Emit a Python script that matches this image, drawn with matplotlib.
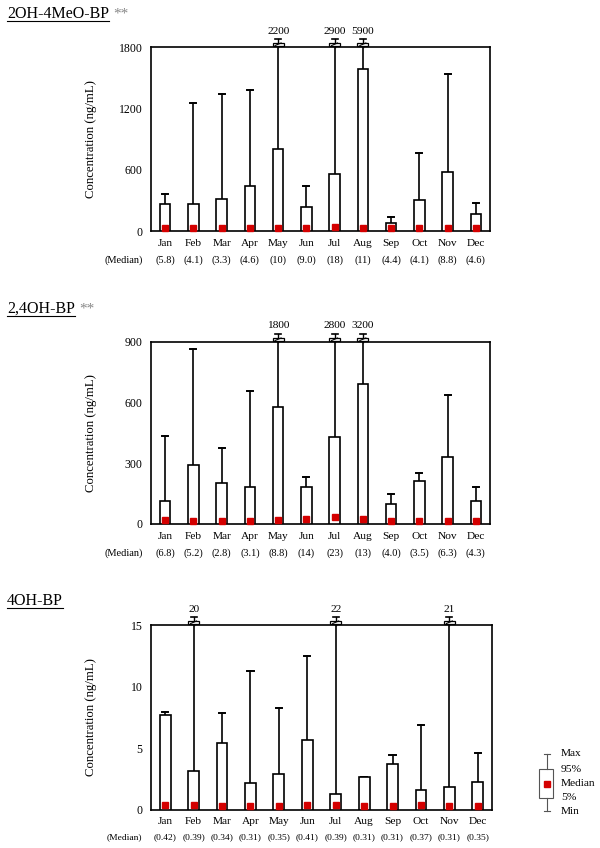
import matplotlib
matplotlib.use('Agg')
import matplotlib.pyplot as plt
from matplotlib.transforms import blended_transform_factory, offset_copy
from matplotlib.patches import Rectangle

plt.rcParams['font.family'] = ['Liberation Serif', 'DejaVu Serif']

months = ['Jan', 'Feb', 'Mar', 'Apr', 'May', 'Jun', 'Jul', 'Aug', 'Sep', 'Oct', 'Nov', 'Dec']

# 2OH-4MeO-BP
p95_a = [268, 268, 317, 438, 798, 239, 556, 1587, 75, 308, 576, 170]
max_a = [366, 1250, 1342, 1378, 2200, 438, 2900, 5900, 137, 759, 1538, 272]
med_a = [5.8, 4.1, 3.3, 4.6, 10, 9.0, 18, 11, 4.4, 4.1, 8.8, 4.6]
medlbl_a = ['5.8', '4.1', '3.3', '4.6', '10', '9.0', '18', '11', '4.4', '4.1', '8.8', '4.6']
yticks_a = [0, 600, 1200, 1800]

# 2,4OH-BP
p95_b = [115, 291, 204, 181, 578, 184, 431, 693, 97, 211, 329, 115]
max_b = [436, 864, 377, 658, 1800, 234, 2800, 3200, 150, 252, 637, 184]
med_b = [6.8, 5.2, 2.8, 3.1, 8.8, 14, 23, 13, 4.0, 3.5, 6.3, 4.3]
medlbl_b = ['6.8', '5.2', '2.8', '3.1', '8.8', '14', '23', '13', '4.0', '3.5', '6.3', '4.3']
yticks_b = [0, 300, 600, 900]

# 4OH-BP
p95_c = [7.7, 3.2, 5.45, 2.2, 2.95, 5.7, 1.3, 2.65, 3.75, 1.6, 1.9, 2.3]
max_c = [7.95, 20, 7.9, 11.3, 8.25, 12.5, 22, 2.7, 4.45, 6.9, 21, 4.65]
med_c = [0.42, 0.39, 0.34, 0.31, 0.35, 0.41, 0.39, 0.31, 0.31, 0.37, 0.31, 0.35]
medlbl_c = ['0.42', '0.39', '0.34', '0.31', '0.35', '0.41', '0.39', '0.31', '0.31', '0.37', '0.31', '0.35']
yticks_c = [0, 5, 10, 15]

RED = '#d40000'
W, H = 600, 848
fig = plt.figure(figsize=(6, 8.48), dpi=100)

overlay = fig.add_axes([0, 0, 1, 1], zorder=5)
overlay.set_xlim(0, W)
overlay.set_ylim(H, 0)
overlay.axis('off')
overlay.patch.set_alpha(0)


def panel(left, top, right, bottom, p95, vmax, med, medlbl, yticks,
          month_dy=12, med_dy=29, med_fs=7.5, marker_lift=2.2):
    ax = fig.add_axes([left / W, 1 - bottom / H, (right - left) / W, (bottom - top) / H])
    ymax = yticks[-1]
    x = list(range(1, 13))
    bw = 0.38
    mtr = offset_copy(ax.transData, fig=fig, y=marker_lift, units='dots')
    for i in range(12):
        xi = x[i]
        ax.add_patch(Rectangle((xi - bw / 2, 0), bw, p95[i], facecolor='white',
                               edgecolor='black', lw=1.2, zorder=3))
        top_v = min(vmax[i], ymax)
        ax.plot([xi, xi], [p95[i], top_v], color='black', lw=1.2, zorder=2,
                clip_on=False)
        if vmax[i] <= ymax:
            ax.plot([xi - 0.11, xi + 0.11], [vmax[i], vmax[i]], color='black',
                    lw=1.4, zorder=2)
        ax.plot([xi], [med[i]], marker='s', ms=3.8, color=RED, mec=RED,
                zorder=6, clip_on=False, transform=mtr)
    ax.set_xlim(0.5, 12.5)
    ax.set_ylim(0, ymax)
    ax.set_yticks(yticks)
    ax.set_yticklabels([str(t) for t in yticks], fontsize=8.5)
    ax.set_xticks(x)
    ax.set_xticklabels(months, fontsize=8.2)
    ax.tick_params(axis='both', length=0)
    ax.tick_params(axis='y', pad=6)
    ax.tick_params(axis='x', pad=month_dy - 6)
    for s in ax.spines.values():
        s.set_linewidth(1.2)
    ax.set_ylabel('Concentration (ng/mL)', fontsize=9.2)
    ax.yaxis.set_label_coords((97 - left) / (right - left), 0.5)
    # median row
    bt = blended_transform_factory(ax.transData, ax.transAxes)
    tr = offset_copy(bt, fig=fig, y=-med_dy, units='dots')
    for i in range(12):
        ax.text(x[i], 0, '(' + medlbl[i] + ')', transform=tr, ha='center',
                va='center', fontsize=med_fs)
    ax.text(left - 27, bottom + med_dy, '(Median)', transform=overlay.transData,
            ha='center', va='center', fontsize=med_fs)
    # break markers
    for i in range(12):
        if vmax[i] > ymax:
            xi = x[i]
            xp = ax.transData.transform((xi, 0))[0]
            ytop = top
            overlay.plot([xp, xp], [ytop, ytop - 8], color='black', lw=1.0, zorder=6)
            overlay.plot([xp - 3, xp + 3], [ytop - 8, ytop - 8], color='black', lw=1.2, zorder=6)
            overlay.add_patch(Rectangle((xp - 5.5, ytop - 4.5), 11, 3.5, facecolor='white',
                                        edgecolor='black', lw=0.9, zorder=7))
            overlay.plot([xp - 3, xp + 3], [ytop - 1.5, ytop - 4], color='black', lw=0.8, zorder=8)
            overlay.text(xp, ytop - 16, f'{vmax[i]:g}', ha='center', va='center',
                         fontsize=8.2, zorder=8)
    return ax


panel(151, 47, 490, 231, p95_a, max_a, med_a, medlbl_a, yticks_a, month_dy=12, med_dy=29)
panel(151, 342, 490, 524, p95_b, max_b, med_b, medlbl_b, yticks_b, month_dy=12, med_dy=29)
panel(151, 625, 492, 810, p95_c, max_c, med_c, medlbl_c, yticks_c, month_dy=11, med_dy=27,
      med_fs=6.8, marker_lift=0)

# titles with underline
titles = [('2OH-4MeO-BP', True, 18), ('2,4OH-BP', True, 313), ('4OH-BP', False, 605)]
fig.canvas.draw()
renderer = fig.canvas.get_renderer()
inv = overlay.transData.inverted()
for name, stars, ybase in titles:
    t = overlay.text(7, ybase, name, fontsize=11.5, ha='left', va='baseline')
    bb = t.get_window_extent(renderer=renderer)
    (x0, _), (x1, _) = inv.transform([(bb.x0, bb.y0), (bb.x1, bb.y1)])
    overlay.plot([x0, x1], [ybase + 2.5, ybase + 2.5], color='black', lw=0.8)
    if stars:
        overlay.text(x1 + 4, ybase, '**', fontsize=11, color='#888888',
                     ha='left', va='baseline')

# legend
lx = 547
overlay.plot([lx, lx], [754, 769], color='#555555', lw=0.8)
overlay.plot([lx, lx], [798, 811], color='#555555', lw=0.8)
overlay.plot([lx - 3, lx + 3], [754, 754], color='#555555', lw=0.8)
overlay.plot([lx - 3, lx + 3], [811, 811], color='#555555', lw=0.8)
overlay.add_patch(Rectangle((539, 769), 14, 29, facecolor='white', edgecolor='#555555', lw=0.8))
overlay.plot([lx], [783.5], marker='s', ms=3.8, color=RED, mec=RED)
for lbl, yy in [('Max', 754), ('95%', 769), ('Median', 783.5), ('5%', 797), ('Min', 811)]:
    overlay.text(561, yy, lbl, fontsize=8.2, ha='left', va='center')

fig.savefig('out.png', dpi=100)
